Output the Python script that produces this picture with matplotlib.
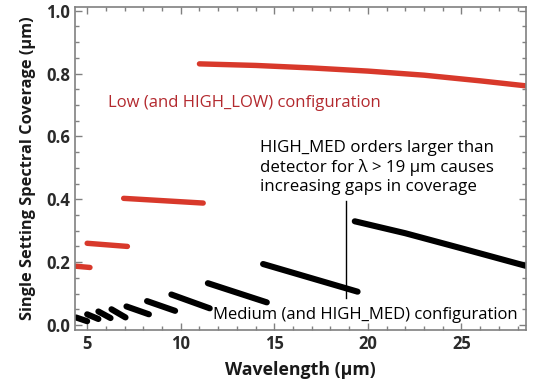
import matplotlib
matplotlib.use("Agg")
import matplotlib.pyplot as plt
from matplotlib.ticker import MultipleLocator

# ---- data ----
low_x = [
    [4.40, 5.15],
    [5.00, 7.15],
    [6.95, 11.20],
    [11.00, 14.0, 17.0, 20.0, 23.0, 26.0, 28.45],
]
low_y = [
    [0.187, 0.183],
    [0.260, 0.250],
    [0.403, 0.388],
    [0.831, 0.826, 0.818, 0.808, 0.795, 0.777, 0.761],
]

med_x = [
    [4.40, 5.00],
    [5.00, 5.60],
    [5.60, 6.25],
    [6.30, 7.05],
    [7.10, 8.30],
    [8.20, 9.70],
    [9.50, 11.55],
    [11.45, 14.60],
    [14.40, 19.45],
    [19.30, 22.0, 25.0, 28.45],
]
med_y = [
    [0.024, 0.012],
    [0.034, 0.019],
    [0.043, 0.022],
    [0.050, 0.024],
    [0.059, 0.034],
    [0.076, 0.045],
    [0.097, 0.053],
    [0.133, 0.072],
    [0.194, 0.106],
    [0.330, 0.292, 0.244, 0.188],
]

pointer_x = [18.85, 18.85]
pointer_y = [0.393, 0.085]

x_ticks = [5, 10, 15, 20, 25]
y_ticks = [0.0, 0.2, 0.4, 0.6, 0.8, 1.0]

RED = "#d8392b"
RED_TEXT = "#b3292e"
FONT = ["Open Sans", "DejaVu Sans"]

plt.rcParams["font.family"] = FONT

fig = plt.figure(figsize=(5.33, 3.82), dpi=100)
ax = fig.add_axes([0.1407, 0.1361, 0.8462, 0.8456])

for xs, ys in zip(low_x, low_y):
    ax.plot(xs, ys, color=RED, lw=3.9, solid_capstyle="round")
for xs, ys in zip(med_x, med_y):
    ax.plot(xs, ys, color="black", lw=4.4, solid_capstyle="round")

ax.plot(pointer_x, pointer_y, color="black", lw=1.0)

ax.set_xlim(4.35, 28.45)
ax.set_ylim(-0.016, 1.012)
ax.set_xticks(x_ticks)
ax.set_yticks(y_ticks)
ax.set_yticklabels([f"{v:.1f}" for v in y_ticks])
ax.xaxis.set_minor_locator(MultipleLocator(1))
ax.yaxis.set_minor_locator(MultipleLocator(0.05))

ax.tick_params(which="both", direction="in", top=True, right=True,
               color="#808080", labelcolor="#2a2a2a", labelsize=12)
ax.tick_params(which="major", length=5, width=1.0)
ax.tick_params(which="minor", length=3, width=1.0)
for lab in ax.get_xticklabels() + ax.get_yticklabels():
    lab.set_fontweight("bold")
for sp in ax.spines.values():
    sp.set_color("#808080")
    sp.set_linewidth(1.2)

ax.set_xlabel("Wavelength (µm)", fontsize=12.8, fontweight="bold", color="#1a1a1a", labelpad=6)
ax.set_ylabel("Single Setting Spectral Coverage (µm)", fontsize=11.8, fontweight="bold",
              color="#1a1a1a", labelpad=7)

ax.text(6.1, 0.708, "Low (and HIGH_LOW) configuration", color=RED_TEXT, fontsize=12.0,
        va="center", ha="left")
ax.text(14.25, 0.59, "HIGH_MED orders larger than\ndetector for λ > 19 µm causes\nincreasing gaps in coverage",
        color="black", fontsize=12.2, va="top", ha="left", linespacing=1.25)
ax.text(11.75, 0.033, "Medium (and HIGH_MED) configuration", color="black", fontsize=12.0,
        va="center", ha="left")

fig.savefig("out.png", dpi=100)
